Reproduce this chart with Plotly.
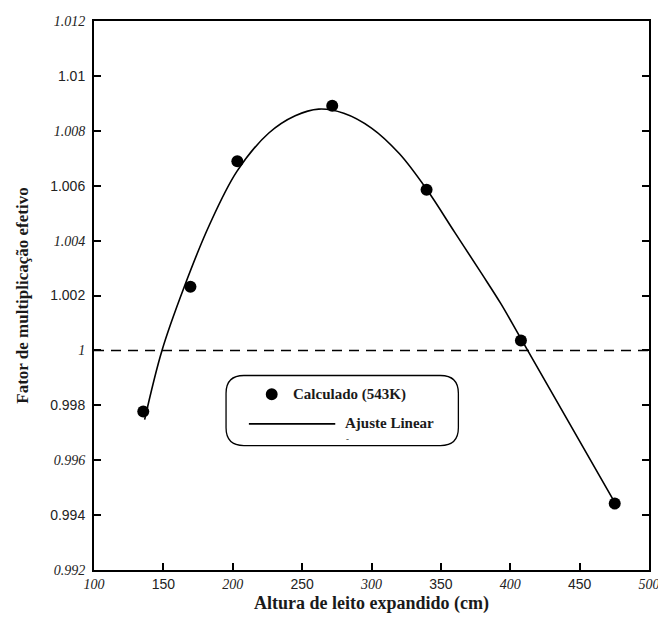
import plotly.graph_objects as go

# Calculated points
altura = [135.5, 169.5, 203.3, 271.7, 339.7, 407.7, 475.3]
keff = [0.99777, 1.00232, 1.00689, 1.00891, 1.00585, 1.00036, 0.99442]

# Fitted curve
ajuste_x = [136.5, 149, 165, 183, 203, 226, 245, 262, 280, 300, 320, 340, 360, 380, 393, 408, 476]
ajuste_y = [0.99748, 1.0000, 1.00231, 1.00455, 1.00652, 1.00792, 1.00855, 1.00879, 1.00864, 1.0081,
            1.00717, 1.00585, 1.0043, 1.00275, 1.00172, 1.0004, 0.9944]

x_ticks = [100, 150, 200, 250, 300, 350, 400, 450, 500]
x_labels = ["100", "150", "200", "250", "300", "350", "400", "450", "500"]
y_ticks = [0.992, 0.994, 0.996, 0.998, 1.0, 1.002, 1.004, 1.006, 1.008, 1.010, 1.012]
y_labels = ["0.992", "0.994", "0.996", "0.998", "1", "1.002", "1.004", "1.006", "1.008", "1.01", "1.012"]
ref_value = 1.0

SERIF = "Liberation Serif"
SANS = "Liberation Sans"

# page has an 8px body margin; figure is sized so the page is 666x626
OFF = 8
W, H = 666 - OFF, 626 - OFF
L, R, T, B = 94 - OFF, 653 - OFF, 14 - OFF, 570 - OFF


def styled(labels):
    out = []
    for i, s in enumerate(labels):
        if i % 2 == 0:
            out.append('<i><span style="font-family:Liberation Serif">' + s + '</span></i>')
        else:
            out.append(s)
    return out


def px(X, Y):
    X -= OFF
    Y -= OFF
    return (X - L) / (R - L), (B - Y) / (B - T)


fig = go.Figure()
fig.add_trace(go.Scatter(x=ajuste_x, y=ajuste_y, mode="lines",
                         line=dict(color="black", width=1.6, shape="spline", smoothing=1.0),
                         name="Ajuste Linear", showlegend=False))
fig.add_trace(go.Scatter(x=altura, y=keff, mode="markers", marker=dict(color="black", size=12),
                         name="Calculado (543K)", showlegend=False))

# dashed reference line
fig.add_shape(type="line", xref="paper", yref="y", x0=0, x1=1, y0=ref_value, y1=ref_value,
              line=dict(color="black", width=1.5, dash="10px,7px"))

# rounded legend box
x0, y0, x1, y1, r = 227, 373, 461, 444, 18


def P(X, Y):
    a, b = px(X, Y)
    return f"{a:.5f},{b:.5f}"


path = (f"M {P(x0 + r, y0)} L {P(x1 - r, y0)} Q {P(x1, y0)} {P(x1, y0 + r)} "
        f"L {P(x1, y1 - r)} Q {P(x1, y1)} {P(x1 - r, y1)} "
        f"L {P(x0 + r, y1)} Q {P(x0, y1)} {P(x0, y1 - r)} "
        f"L {P(x0, y0 + r)} Q {P(x0, y0)} {P(x0 + r, y0)} Z")
fig.add_shape(type="path", xref="paper", yref="paper", path=path, line=dict(color="black", width=1.3),
              fillcolor="white", layer="above")

# legend items
fig.add_shape(type="circle", xref="paper", yref="paper", x0=px(267, 0)[0], x1=px(279, 0)[0],
              y0=px(0, 398)[1], y1=px(0, 386)[1], fillcolor="black", line=dict(color="black", width=0),
              layer="above")
lx0, ly = px(250, 422)
lx1, _ = px(337, 422)
fig.add_shape(type="line", xref="paper", yref="paper", x0=lx0, x1=lx1, y0=ly, y1=ly,
              line=dict(color="black", width=1.6), layer="above")
tx, ty = px(292, 392)
fig.add_annotation(xref="paper", yref="paper", x=tx, y=ty, xanchor="left", yanchor="middle", showarrow=False,
                   text="<b>Calculado (543K)</b>", font=dict(family=SERIF, size=15, color="#1a1a1a"))
tx2, ty2 = px(345, 421)
fig.add_annotation(xref="paper", yref="paper", x=tx2, y=ty2, xanchor="left", yanchor="middle", showarrow=False,
                   text="<b>Ajuste Linear</b>", font=dict(family=SERIF, size=15, color="#1a1a1a"))
tx3, ty3 = px(346, 437)
fig.add_annotation(xref="paper", yref="paper", x=tx3, y=ty3, xanchor="left", yanchor="middle", showarrow=False,
                   text="-", font=dict(family=SERIF, size=9, color="#1a1a1a"))

fig.update_layout(
    width=W, height=H,
    margin=dict(l=L, r=W - R, t=T, b=H - B),
    paper_bgcolor="white", plot_bgcolor="white",
    showlegend=False,
    font=dict(family=SANS, color="#222"),
)
fig.update_xaxes(range=[100, 500], tickvals=x_ticks, ticktext=styled(x_labels), ticks="inside", ticklen=7,
                 tickwidth=1.5, tickcolor="black", showline=True, linecolor="black", linewidth=2, mirror=True,
                 showgrid=False, zeroline=False, tickfont=dict(family=SANS, size=14, color="#222"),
                 title=dict(text="<b>Altura de leito expandido (cm)</b>", standoff=6,
                            font=dict(family=SERIF, size=18, color="#1a1a1a")))
fig.update_yaxes(range=[0.992, 1.012], tickvals=y_ticks, ticktext=styled(y_labels), ticks="inside", ticklen=7,
                 tickwidth=1.5, tickcolor="black", showline=True, linecolor="black", linewidth=2, mirror="ticks",
                 showgrid=False, zeroline=False, tickfont=dict(family=SANS, size=14, color="#222"),
                 ticklabelstandoff=4,
                 title=dict(text="<b>Fator de multiplicação efetivo</b>", standoff=17,
                            font=dict(family=SERIF, size=17, color="#1a1a1a")))

fig.write_html("out.html")
